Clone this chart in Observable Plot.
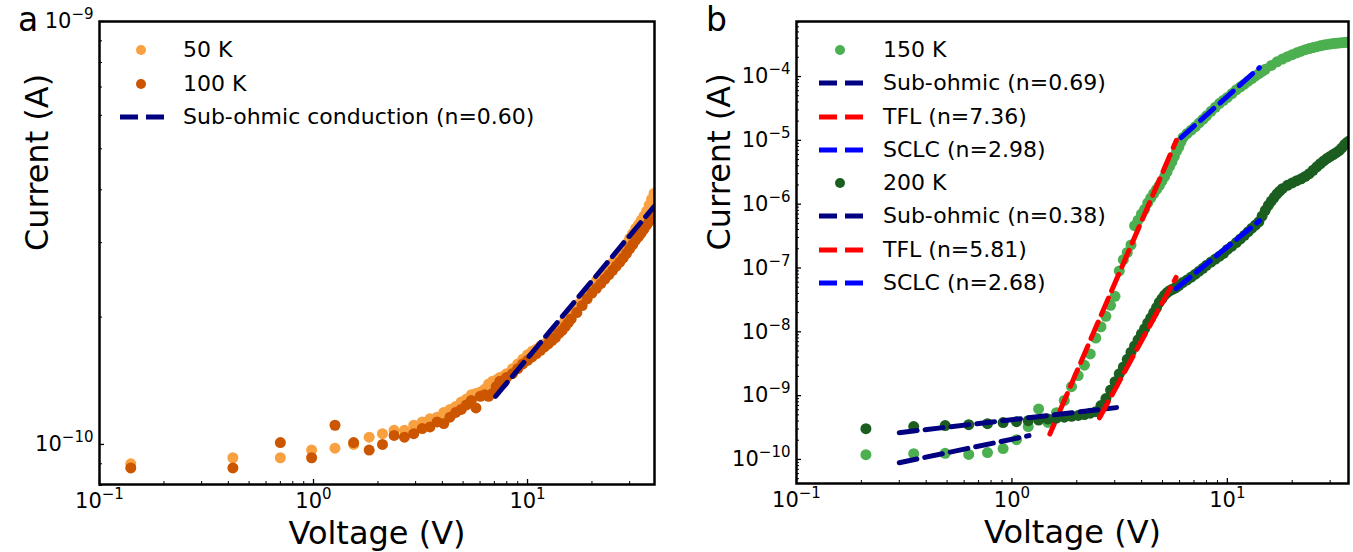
<!DOCTYPE html>
<html><head><meta charset="utf-8">
<script src="https://cdn.jsdelivr.net/npm/d3@7"></script>
<script src="https://cdn.jsdelivr.net/npm/@observablehq/plot@0.6"></script>
<style>
body{margin:0;background:#fff;}
#wrap{position:relative;width:1353px;height:552px;overflow:hidden;font-family:"DejaVu Sans",sans-serif;background:#fff;}
.panel{position:absolute;top:0;}
.lg{position:absolute;font-size:22px;line-height:26px;height:26px;white-space:nowrap;color:#000;display:flex;align-items:center;}
.lg svg{position:absolute;left:0;top:6px;}
.lg span{position:absolute;}
.letter{position:absolute;font-size:33px;line-height:33px;color:#000;}
</style></head><body><div id="wrap"></div>
<script>
// ---------- Panel a data (current in units of 1e-10 A) ----------
const A_UNIT = 1e-10;
const vA = [0.14,0.42,0.70,0.98,1.26,1.54,1.82,2.10,2.38,2.66,2.94,3.22,3.50,3.78,4.06,4.34,4.62,4.90,5.18,5.46,5.74,6.02,6.30,6.58,6.86,7.14,7.42,7.70,7.98,8.5,9,9.5,10,10.5,11,11.5,12,12.5,13,13.5,14,14.5,15,15.5,16,17,18,19,20,21,22,23,24,25,26,27,28,29,30,31,32,33,34,35,36,37,38,39];
const iA50 = [0.90,0.93,0.93,0.97,0.98,1.00,1.04,1.06,1.08,1.08,1.11,1.13,1.15,1.16,1.19,1.21,1.23,1.26,1.28,1.31,1.32,1.33,1.35,1.39,1.41,1.42,1.44,1.45,1.47,1.51,1.55,1.59,1.63,1.66,1.68,1.71,1.73,1.77,1.80,1.84,1.88,1.92,1.97,2.01,2.06,2.14,2.22,2.30,2.37,2.44,2.51,2.56,2.62,2.69,2.75,2.82,2.90,2.98,3.07,3.15,3.24,3.31,3.39,3.47,3.56,3.68,3.80,3.92];
const iA100 = [0.88,0.88,1.01,0.93,1.11,1.01,0.97,1.00,1.05,1.04,1.06,1.09,1.10,1.13,1.12,1.16,1.19,1.21,1.24,1.27,1.22,1.30,1.31,1.30,1.32,1.37,1.41,1.40,1.44,1.47,1.51,1.55,1.58,1.61,1.64,1.67,1.70,1.73,1.76,1.79,1.83,1.86,1.90,1.94,1.98,2.05,2.13,2.21,2.28,2.34,2.40,2.46,2.52,2.58,2.64,2.70,2.76,2.83,2.90,2.97,3.04,3.10,3.16,3.23,3.30,3.37,3.44,3.52];
const fitA_v = [7.1, 39];
const fitA_i = [1.30e-10, 3.65e-10];

// ---------- Panel b data (A) ----------
const v150 = [0.21,0.35,0.49,0.63,0.77,0.91,1.05,1.19,1.33,1.47,1.61,1.75,1.89,2.03,2.17,2.31,2.45,2.59,2.73,2.87,3.01,3.15,3.29,3.43,3.57,3.71,3.85,3.99,4.13,4.27,4.41,4.55,4.69,4.83,4.97,5.11,5.25,5.39,5.53,5.67,5.81,5.95,6.09,6.23,6.5,6.8,7.1,7.4,7.7,8.0,8.4,8.8,9.2,9.6,10,10.5,11,11.5,12,12.5,13,13.5,14,14.5,15,16,17,18,19,20,21,22,23,24,25,26,27,28,29,30,31,32,33,34,35,36,37];
const i150 = [1.19e-10,1.23e-10,1.25e-10,1.20e-10,1.28e-10,1.48e-10,2.04e-10,3.27e-10,6.2e-10,3.8e-10,5.4e-10,8.4e-10,1.38e-9,2.06e-9,3.0e-9,4.5e-9,8.0e-9,1.2e-8,1.75e-8,2.6e-8,3.6e-8,9.0e-8,1.35e-7,1.75e-7,2.3e-7,4.6e-7,5.6e-7,7.0e-7,8.3e-7,1.05e-6,1.25e-6,1.47e-6,1.70e-6,1.95e-6,2.3e-6,2.7e-6,3.2e-6,3.9e-6,4.6e-6,5.6e-6,6.8e-6,7.8e-6,9.5e-6,1.11e-5,1.28e-5,1.45e-5,1.64e-5,1.88e-5,2.13e-5,2.42e-5,2.85e-5,3.3e-5,3.8e-5,4.25e-5,4.7e-5,5.4e-5,6.2e-5,6.9e-5,7.6e-5,8.5e-5,9.3e-5,1.02e-4,1.11e-4,1.2e-4,1.3e-4,1.49e-4,1.70e-4,1.88e-4,2.05e-4,2.2e-4,2.35e-4,2.5e-4,2.63e-4,2.74e-4,2.84e-4,2.94e-4,3.03e-4,3.11e-4,3.18e-4,3.23e-4,3.28e-4,3.32e-4,3.36e-4,3.39e-4,3.42e-4,3.44e-4,3.46e-4];
const v200 = [0.21,0.35,0.49,0.63,0.77,0.91,1.05,1.19,1.33,1.47,1.61,1.75,1.89,2.03,2.17,2.31,2.45,2.59,2.73,2.87,3.01,3.15,3.29,3.43,3.57,3.71,3.85,3.99,4.13,4.27,4.41,4.55,4.69,4.83,4.97,5.11,5.25,5.39,5.53,5.67,5.81,5.95,6.2,6.5,6.8,7.1,7.4,7.7,8.0,8.4,8.8,9.2,9.6,10,10.5,11,11.5,12,12.5,13,13.5,14,14.5,15,15.5,16,16.5,17,17.5,18,19,20,21,22,23,24,25,26,27,28,29,30,31,32,33,34,35,36,37];
const i200 = [3.04e-10,3.27e-10,3.39e-10,3.51e-10,3.64e-10,3.78e-10,3.91e-10,4.05e-10,4.15e-10,4.3e-10,4.45e-10,4.6e-10,4.75e-10,4.9e-10,5.05e-10,5.3e-10,5.6e-10,7.0e-10,9.0e-10,1.22e-9,1.65e-9,2.2e-9,2.8e-9,3.7e-9,4.8e-9,6.0e-9,7.5e-9,9.3e-9,1.12e-8,1.38e-8,1.65e-8,2.0e-8,2.4e-8,2.9e-8,3.3e-8,3.75e-8,4.1e-8,4.4e-8,4.6e-8,4.8e-8,5.0e-8,5.3e-8,5.9e-8,6.5e-8,7.2e-8,8.0e-8,8.9e-8,9.9e-8,1.1e-7,1.24e-7,1.38e-7,1.53e-7,1.7e-7,1.95e-7,2.2e-7,2.5e-7,2.85e-7,3.25e-7,3.7e-7,4.2e-7,4.7e-7,5.3e-7,6.5e-7,8.0e-7,9.6e-7,1.12e-6,1.28e-6,1.45e-6,1.6e-6,1.75e-6,1.97e-6,2.15e-6,2.33e-6,2.5e-6,2.72e-6,3.0e-6,3.4e-6,3.85e-6,4.3e-6,4.75e-6,5.2e-6,5.6e-6,6.0e-6,6.4e-6,6.9e-6,7.6e-6,8.6e-6,9.3e-6,9.9e-6];
const sub150_v = [0.3, 1.2],   sub150_i = [8.9e-11, 2.36e-10];
const tfl150_v = [1.5, 5.8],   tfl150_i = [2.5e-10, 1.0e-5];
const sclc150_v = [6.1, 14.1], sclc150_i = [1.1e-5, 1.38e-4];
const sub200_v = [0.3, 3.06],  sub200_i = [2.63e-10, 6.49e-10];
const tfl200_v = [2.55, 5.78], tfl200_i = [4.5e-10, 7.1e-8];
const sclc200_v = [5.78, 14.1], sclc200_i = [4.75e-8, 5.5e-7];

// ---------- axis tick values ----------
const xMajor = [0.1, 1, 10];
const xMinor = [0.2,0.3,0.4,0.5,0.6,0.7,0.8,0.9,2,3,4,5,6,7,8,9,20,30];
const yMajorA = [1e-10, 1e-9];
const yMinorA = [8e-11,9e-11,2e-10,3e-10,4e-10,5e-10,6e-10,7e-10,8e-10,9e-10];
const yMajorB = [1e-10,1e-9,1e-8,1e-7,1e-6,1e-5,1e-4];
const legendA = [
  {kind:"dot", color:"#f9a040", label:"50 K"},
  {kind:"dot", color:"#cc5500", label:"100 K"},
  {kind:"dash", color:"#000080", label:"Sub-ohmic conduction (n=0.60)"}
];
const legendB = [
  {kind:"dot", color:"#4caf50", label:"150 K"},
  {kind:"dash", color:"#000080", label:"Sub-ohmic (n=0.69)"},
  {kind:"dash", color:"#ff0000", label:"TFL (n=7.36)"},
  {kind:"dash", color:"#0000ff", label:"SCLC (n=2.98)"},
  {kind:"dot", color:"#1b5e20", label:"200 K"},
  {kind:"dash", color:"#000080", label:"Sub-ohmic (n=0.38)"},
  {kind:"dash", color:"#ff0000", label:"TFL (n=5.81)"},
  {kind:"dash", color:"#0000ff", label:"SCLC (n=2.68)"}
];

const yMinorB = [];
for (let e = -11; e <= -4; e++) for (let k = 2; k <= 9; k++) { const v = k * Math.pow(10, e); if (v > 4.2e-11 && v < 7.2e-4) yMinorB.push(v); }

const rows = (vs, is, unit = 1) => vs.slice(0, Math.min(vs.length, is.length)).map((v, k) => ({v, i: is[k] * unit}));
const DASH = "18,8";
const FONT = "DejaVu Sans";
const fmtPow = d => "10^" + Math.round(Math.log10(d));

function dashed(vs, is, color) {
  return Plot.line(rows(vs, is), {x: "v", y: "i", stroke: color, strokeWidth: 5, strokeDasharray: DASH, clip: true});
}

function makePanel({width, mL, mR, mT, mB, xDomain, yDomain, yMajor, yMinor, ylabelDx, marks}) {
  const height = 552;
  const innerW = width - mL - mR, innerH = height - mT - mB;
  const svg = Plot.plot({
    width, height, marginLeft: mL, marginRight: mR, marginTop: mT, marginBottom: mB,
    style: {fontFamily: FONT, fontSize: "21px", background: "white", overflow: "visible", color: "black"},
    x: {type: "log", domain: xDomain},
    y: {type: "log", domain: yDomain},
    marks: [
      ...marks,
      Plot.ruleX(xMajor, {x: d => d, insetTop: innerH - 5, stroke: "black", strokeWidth: 1.3}),
      Plot.ruleX(xMinor.filter(d => d > xDomain[0] && d < xDomain[1]), {x: d => d, insetTop: innerH - 3, stroke: "black", strokeWidth: 1}),
      Plot.ruleY(yMajor, {y: d => d, insetRight: innerW - 5, stroke: "black", strokeWidth: 1.3}),
      Plot.ruleY(yMinor, {y: d => d, insetRight: innerW - 3, stroke: "black", strokeWidth: 1}),
      Plot.axisX({ticks: xMajor, tickSize: 0, tickPadding: 9, tickFormat: fmtPow, fontSize: 21, label: null}),
      Plot.axisY({ticks: yMajor, tickSize: 0, tickPadding: 6, tickFormat: fmtPow, fontSize: 21, label: null}),
      Plot.frame({stroke: "black", strokeWidth: 2.5}),
      Plot.text(["Voltage (V)"], {frameAnchor: "bottom", dy: 59, lineAnchor: "bottom", fontSize: 32}),
      Plot.text(["Current (A)"], {frameAnchor: "left", dx: ylabelDx, dy: -2, rotate: -90, lineAnchor: "bottom", fontSize: 32})
    ]
  });
  const ns = "http://www.w3.org/2000/svg";
  for (const t of svg.querySelectorAll('g[aria-label$="tick label"] text')) {
    const m = t.textContent.match(/^10\^(-?\d+)$/);
    if (!m) continue;
    t.textContent = "";
    const a = document.createElementNS(ns, "tspan"); a.textContent = "10"; t.appendChild(a);
    const b = document.createElementNS(ns, "tspan"); b.textContent = m[1].replace("-", "\u2212");
    b.setAttribute("font-size", "15px"); b.setAttribute("dy", "-9"); t.appendChild(b);
  }
  return svg;
}

const wrap = document.getElementById("wrap");

const svgA = makePanel({
  width: 676, mL: 99, mR: 22, mT: 21, mB: 68, ylabelDx: -52,
  xDomain: [0.1, 39.2], yDomain: [8.04e-11, 1e-9], yMajor: yMajorA, yMinor: yMinorA,
  marks: [
    Plot.dot(rows(vA, iA50, A_UNIT), {x: "v", y: "i", r: 5.5, fill: "#f9a040", clip: true}),
    Plot.dot(rows(vA, iA100, A_UNIT), {x: "v", y: "i", r: 5.5, fill: "#cc5500", clip: true}),
    dashed(fitA_v, fitA_i, "#000080")
  ]
});
svgA.classList.add("panel"); svgA.style.left = "0px";
wrap.appendChild(svgA);

const svgB = makePanel({
  width: 677, mL: 120, mR: 5, mT: 21, mB: 69, ylabelDx: -67,
  xDomain: [0.1, 36.5], yDomain: [4.2e-11, 7.28e-4], yMajor: yMajorB, yMinor: yMinorB,
  marks: [
    Plot.dot(rows(v150, i150), {x: "v", y: "i", r: 5.5, fill: "#4caf50", clip: true}),
    dashed(sub150_v, sub150_i, "#000080"),
    dashed(tfl150_v, tfl150_i, "#ff0000"),
    dashed(sclc150_v, sclc150_i, "#0000ff"),
    Plot.dot(rows(v200, i200), {x: "v", y: "i", r: 5.5, fill: "#1b5e20", clip: true}),
    dashed(sub200_v, sub200_i, "#000080"),
    dashed(tfl200_v, tfl200_i, "#ff0000"),
    dashed(sclc200_v, sclc200_i, "#0000ff")
  ]
});
svgB.classList.add("panel"); svgB.style.left = "676px";
wrap.appendChild(svgB);

// legends
function legend(items, swLeft, textLeft, y0, step) {
  items.forEach((it, k) => {
    const cy = y0 + step * k;
    const div = document.createElement("div");
    div.className = "lg";
    div.style.left = swLeft + "px";
    div.style.top = (cy - 13) + "px";
    const sw = it.kind === "dot"
      ? `<svg width="48" height="14"><circle cx="23" cy="7" r="5" fill="${it.color}"/></svg>`
      : `<svg width="48" height="14"><line x1="2" x2="47" y1="7" y2="7" stroke="${it.color}" stroke-width="5" stroke-dasharray="${DASH}"/></svg>`;
    div.innerHTML = sw + `<span style="left:${textLeft - swLeft}px">${it.label}</span>`;
    wrap.appendChild(div);
  });
}
legend(legendA, 118, 183, 50, 33.5);
legend(legendB, 817, 883, 50, 33.28);

for (const [txt, x] of [["a", 18], ["b", 706]]) {
  const d = document.createElement("div");
  d.className = "letter"; d.textContent = txt;
  d.style.left = x + "px"; d.style.top = "3px";
  wrap.appendChild(d);
}
</script></body></html>
